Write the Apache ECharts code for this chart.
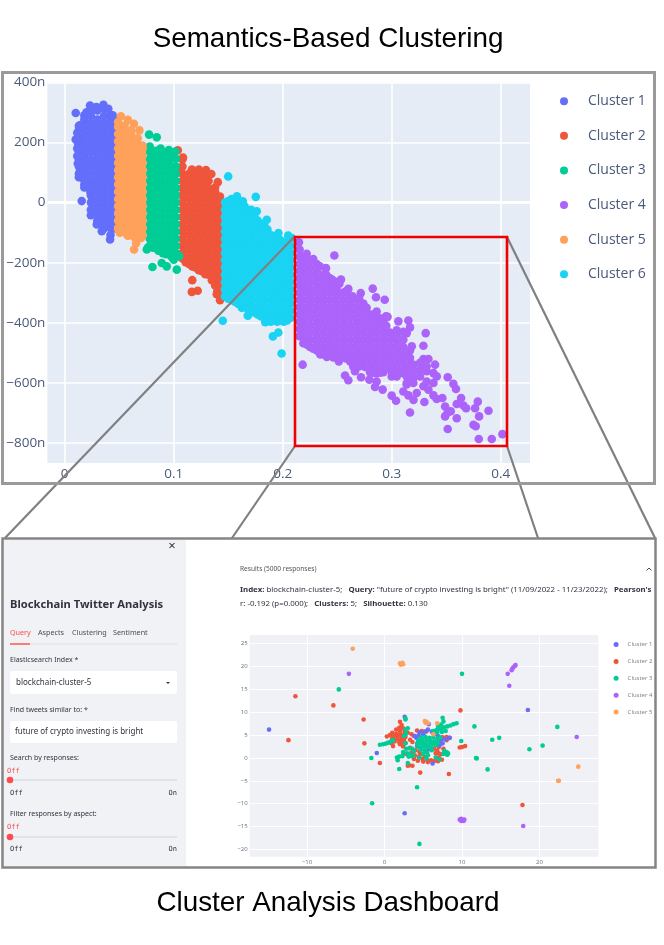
<!DOCTYPE html>
<html><head><meta charset="utf-8">
<style>html,body{margin:0;padding:0;background:#fff}#c{width:664px;height:945px}</style>
<script src="https://cdn.jsdelivr.net/npm/echarts@6/dist/echarts.min.js"></script>
</head><body><div id="c"></div>
<script>
// ---- Upper chart: [x, [y values in nano units]]
const names = ['Cluster 1','Cluster 2','Cluster 3','Cluster 4','Cluster 5','Cluster 6'];
const colors = ['#636efa','#EF553B','#00cc96','#ab63fa','#FFA15A','#19d3f3'];
const xTicksTop = [0,0.1,0.2,0.3,0.4];
const yTicksTop = [-800,-600,-400,-200,0,200,400];
const xTicksLow = [-10,0,10,20];
const yTicksLow = [-20,-15,-10,-5,0,5,10,15,20,25];

const c1Cols = [
[.013,[255,240,216,192,168,144,120,96,84]],
[.018,[290,276,252,228,204,180,156,132,108,84,60,50]],
[.024,[312,288,264,240,216,192,168,144,120,96,72,48,24,0,-24,-42]],
[.030,[306,276,252,228,204,180,156,132,108,84,60,36,12,-12,-36,-60,-64]],
[.036,[312,288,264,240,216,192,168,144,120,96,72,48,24,0,-24,-48,-72,-86]],
[.042,[292,276,252,228,204,180,156,132,108,84,60,36,12,-12,-36,-60,-84,-108]],
[.046,[272,264,240,216,192,168,144,120,96,72,48,24,0,-24,-48,-72,-86]]];
const c1Pts = [[.0101,298],[.0101,210],[.0156,5],[.0294,-73],[.034,-95],[.0416,-123],[.0355,325],[.0232,323],[.0268,310],[.0145,258],[.0125,195],[.0155,120],[.0115,232],[.0115,205],[.0115,180],[.0115,155],[.012,130],[.014,105],[.0165,80],[.02,58],[.0235,35],[.0265,5],[.0295,-25],[.0315,-50],[.02,300],[.029,318],[.04,312],[.044,290]];

const c5Cols = [
[.049,[268,252,228,204,180,156,132,108,84,60,36,12,-12,-36,-60,-84,-88]],
[.055,[256,240,216,192,168,144,120,96,72,48,24,0,-24,-48,-72,-96]],
[.061,[240,228,204,180,156,132,108,84,60,36,12,-12,-36,-60,-84,-108]],
[.067,[214,192,168,144,120,96,72,48,24,0,-24,-48,-72,-96,-100]],
[.0715,[190,180,156,132,108,84,60,36,12,-12,-36,-60,-84,-108]]];
const c5Pts = [[.0636,-156],[.0655,-135],[.0515,287],[.058,275],[.0635,262],[.0685,240],[.0575,-108],[.0505,-100],[.052,-98],[.058,-110],[.064,-115],[.07,-118]];

const c3Cols = [
[.078,[186,168,144,120,96,72,48,24,0,-24,-48,-72,-96,-120,-144]],
[.084,[172,156,132,108,84,60,36,12,-12,-36,-60,-84,-108,-132,-144]],
[.090,[162,144,120,96,72,48,24,0,-24,-48,-72,-96,-120,-144,-168]],
[.096,[156,132,108,84,60,36,12,-12,-36,-60,-84,-108,-132,-156]],
[.102,[146,120,96,72,48,24,0,-24,-48,-72,-96,-120,-144,-168]]];
const c3Pts = [[.0774,226],[.0844,217],[.0805,-214],[.0890,-201],[.0936,-212],[.1028,-223],[.0753,-156],[.0762,-150],[.098,-180],[.086,-160],[.1,-190],[.0955,175],[.1015,170],[.088,180],[.081,-150],[.087,-160],[.093,-172],[.099,-176],[.105,-178]];

const c2Cols = [
[.108,[144,120,96,72,48,24,0,-24,-48,-72,-96,-120,-144,-168,-186]],
[.114,[96,84,60,36,12,-12,-36,-60,-84,-108,-132,-156,-180,-204]],
[.120,[96,72,48,24,0,-24,-48,-72,-96,-120,-144,-168,-192,-216]],
[.126,[96,84,60,36,12,-12,-36,-60,-84,-108,-132,-156,-180,-204,-228]],
[.132,[90,72,48,24,0,-24,-48,-72,-96,-120,-144,-168,-192,-216,-240]],
[.138,[50,36,12,-12,-36,-60,-84,-108,-132,-156,-180,-204,-228,-252,-276]],
[.1425,[20,0,-24,-48,-72,-96,-120,-144,-168,-192,-216,-240,-264,-288,-312]]];
const c2Pts = [[.117,-258],[.1166,-297],[.122,-293],[.1404,68],[.1037,174],[.1085,150],[.1065,110],[.1167,110],[.1231,110],[.1296,108],[.1345,95],[.1395,-305],[.1425,-325],[.111,-198],[.117,-212],[.123,-225],[.129,-238],[.135,-258],[.14,-295]];

const c6Cols = [
[.147,[0,-24,-48,-72,-96,-120,-144,-168,-192,-216,-240,-264,-288,-312]],
[.153,[12,-12,-36,-60,-84,-108,-132,-156,-180,-204,-228,-252,-276,-300,-324]],
[.159,[0,-24,-48,-72,-96,-120,-144,-168,-192,-216,-240,-264,-288,-312,-336]],
[.165,[-12,-36,-60,-84,-108,-132,-156,-180,-204,-228,-252,-276,-300,-324,-348]],
[.171,[-24,-48,-72,-96,-120,-144,-168,-192,-216,-240,-264,-288,-312,-336,-360]],
[.177,[-60,-84,-108,-132,-156,-180,-204,-228,-252,-276,-300,-324,-348,-372]],
[.183,[-72,-96,-120,-144,-168,-192,-216,-240,-264,-288,-312,-336,-360,-384]],
[.189,[-108,-132,-156,-180,-204,-228,-252,-276,-300,-324,-348,-372,-396]],
[.195,[-120,-144,-168,-192,-216,-240,-264,-288,-312,-336,-360,-384]],
[.201,[-132,-156,-180,-204,-228,-252,-276,-300,-324,-348,-372,-396]],
[.207,[-120,-144,-168,-192,-216,-240,-264,-288,-312,-336,-360,-384]]];
const c6Pts = [[.150,87],[.158,21],[.1634,4],[.1753,19],[.1762,-29],[.1854,-57],[.1824,-84],[.1961,-101],[.2084,-118],[.1655,-43],[.145,-393],[.168,-376],[.184,-398],[.195,-396],[.191,-445],[.196,-432],[.199,-502],[.1625,-350],[.175,-365],[.205,-110],[.15,5],[.156,10],[.162,-5],[.168,-25],[.174,-45],[.18,-70],[.186,-90],[.192,-112],[.198,-125],[.204,-130],[.15,-320],[.156,-330],[.162,-342],[.168,-352],[.174,-365],[.18,-378],[.186,-390],[.192,-392],[.198,-392],[.204,-392]];

const c4Cols = [
[.2155,[-156,-180,-204,-228,-252,-276,-300,-324,-348,-372,-396,-420,-444]],
[.2189,[-180,-204,-228,-252,-276,-300,-324,-348,-372,-396,-420,-444,-468]],
[.225,[-192,-216,-240,-264,-288,-312,-336,-360,-384,-408,-432,-456,-480]],
[.2312,[-204,-228,-252,-276,-300,-324,-348,-372,-396,-420,-444,-468,-492]],
[.2373,[-240,-264,-288,-312,-336,-360,-384,-408,-432,-456,-480,-504]],
[.2434,[-252,-276,-300,-324,-348,-372,-396,-420,-444,-468,-492,-508]],
[.2495,[-264,-288,-312,-336,-360,-384,-408,-432,-456,-480,-504,-513]],
[.2557,[-300,-324,-348,-372,-396,-420,-444,-468,-492,-516]],
[.2618,[-312,-336,-360,-384,-408,-432,-456,-480,-504,-528]],
[.2679,[-324,-348,-372,-396,-420,-444,-468,-492,-516,-540]],
[.274,[-336,-360,-384,-408,-432,-456,-480,-504,-528]],
[.2801,[-372,-396,-420,-444,-468,-492,-516,-540,-564]],
[.2862,[-384,-408,-432,-456,-480,-504,-528,-552,-568]],
[.2924,[-396,-420,-444,-468,-492,-516,-540,-564]],
[.2985,[-432,-456,-480,-504,-528,-552]],
[.3046,[-444,-468,-492,-516,-540,-564]],
[.3107,[-456,-480,-504,-528,-552]],
[.3168,[-492,-516,-540]]];
const c4Pts = [[.2474,-176],[.2149,-132],[.2397,-218],[.2535,-256],[.2602,-287],[.2826,-286],[.2716,-301],[.2856,-315],[.2936,-323],[.2862,-362],[.2948,-378],[.2962,-380],[.3061,-395],[.3153,-392],[.3312,-434],[.3291,-476],[.3184,-478],[.3138,-434],[.3,-440],[.2183,-539],[.2572,-575],[.2602,-591],[.2663,-561],[.2719,-581],[.2755,-547],[.2795,-589],[.2847,-613],[.2862,-595],[.2917,-622],[.3,-642],[.304,-659],[.3107,-628],[.3153,-641],[.32,-656],[.323,-633],[.33,-663],[.3168,-698],[.3383,-641],[.3413,-653],[.3465,-650],[.349,-678],[.3514,-581],[.3566,-603],[.359,-620],[.3637,-650],[.3597,-670],[.3658,-675],[.3683,-684],[.379,-662],[.3765,-684],[.3888,-692],[.3802,-711],[.3542,-694],[.3514,-698],[.349,-711],[.3597,-717],[.3514,-753],[.375,-739],[.3771,-744],[.3799,-786],[.3918,-786],[.4016,-770],[.3291,-520],[.3337,-520],[.3398,-539],[.3321,-545],[.3199,-539],[.326,-533],[.3138,-556],[.3199,-561],[.326,-556],[.3321,-561],[.3383,-567],[.3413,-578],[.3,-578],[.3046,-578],[.3138,-578],[.3199,-583],[.3138,-600],[.3199,-600],[.3291,-611],[.3337,-622],[.3383,-600],[.3321,-595],[.326,-578],[.3138,-605],[.3,-562],[.3107,-567],[.3168,-415],[.3046,-425],[.3107,-430],[.2215,-462],[.2345,-505],[.2405,-513],[.2515,-528],[.2648,-546],[.2465,-515],[.222,-170],[.228,-188],[.234,-212],[.24,-240],[.246,-258],[.252,-270],[.258,-295],[.264,-312],[.27,-318],[.277,-350],[.283,-372],[.289,-385],[.295,-410],[.222,-472],[.228,-486],[.234,-498],[.24,-506],[.246,-510],[.252,-516],[.258,-518],[.264,-532],[.27,-545],[.277,-545],[.283,-566],[.2895,-566]];

// ---- Lower chart: [x, y] points
const d1 = [[-14.9,6.2],[2.6,9],[-1,1.1],[2.6,-12.1],[18.5,10.5],[4.5,5.6],[5,5.2],[5.6,6.2],[6.1,5.8],[6.6,5.3],[4.4,4.9],[4.1,4.4],[6.9,4.8],[7.4,4.1],[7.9,4.1],[8.4,4.4],[7.5,3.2],[7.1,2.8],[4.3,3.4],[4.2,2.6],[4.6,2.2],[5.7,1.9],[5.2,3],[6,3.6],[6.2,-1.2],[3.9,4.8],[5.7,7.4],[5.2,5.8],[7,3.6],[6.5,5.7]];
const d2 = [[-11.5,13.5],[-6.6,11.5],[-12.4,3.9],[-2.7,8.4],[-2.6,3.2],[-0.6,-1.1],[9.8,10.4],[9.7,2.3],[10.4,2.6],[8.3,-3.5],[4.6,-3.2],[17.8,-10.3],[10,2.4],[2,7.9],[2.2,7.2],[1.9,6.6],[2.4,6.5],[1.5,6.2],[2,5.9],[2.6,5.8],[3,5.5],[1,5.5],[1.5,5.3],[2,5.2],[2.5,5.1],[.7,5],[1.2,4.8],[1.7,4.7],[2.2,4.6],[2.7,4.6],[.3,4.7],[1,4.3],[1.5,4.1],[2,4],[2.5,4],[1.3,3.6],[1.9,3.4],[2.4,3.4],[1.1,2.6],[2,3],[.9,3.2],[2.7,3.3],[3.5,5.2],[4.2,6],[4.8,5.9],[5.4,5.8],[6.2,5.6],[3.8,4.8],[7.5,4.5],[8,4.6],[8.4,4.4],[8,3.9],[7.2,3.5],[3.3,2.2],[2.4,2.5],[4,1.7],[4.5,1.3],[3.5,1.2],[3.9,.6],[4.4,.2],[4.9,-.2],[5.5,-.4],[3.8,-.2],[4.3,-.6],[5,-.8],[5.6,-.9],[6,-.5],[6.5,-.6],[6.9,-.7],[7,.1],[7.4,-.4],[7.3,.8],[7,1],[6.8,1.6],[3.2,-1.6],[3.6,-1.7],[3,-1.7],[2.9,.8],[2.5,1],[6.6,1],[6.4,2],[7,2.4],[7.6,2],[3.3,4],[3.6,3.5],[4.6,.8],[5.2,.2]];
const d3 = [[-5.9,15],[10,18.4],[11.6,6.9],[13.9,4],[14.8,4.4],[22.3,6.8],[20.4,2.7],[18.7,1.9],[11.9,-.1],[11.8,0],[13.3,-2.5],[4.2,-6.4],[-1.6,-9.9],[4.5,-18.8],[-1.7,0],[1.9,-2.4],[-.6,2.9],[-.2,3],[.1,3.1],[.4,3.3],[.7,3.5],[.9,3.7],[1.1,3.9],[6.3,5.9],[6.7,6.1],[7,6.3],[7.4,6.5],[7.7,6.7],[8.1,6.9],[8.5,7.1],[8.9,7.4],[9.3,7.6],[6.9,6.9],[7.3,7.3],[7.6,8],[7.5,8.8],[6.8,5.6],[7.4,5.7],[7.9,5.9],[4.8,4.5],[5.3,4.6],[5.8,4.4],[6.3,4.5],[6.8,4.2],[7.2,4.5],[4.4,3.9],[4.9,3.9],[5.4,3.8],[5.9,3.7],[6.4,3.6],[6.9,3.4],[4.2,3.1],[4.7,3.2],[5.2,3.2],[5.7,3],[6.2,3],[6.6,2.8],[4.4,2.4],[5,2.5],[5.5,2.4],[6,2.3],[4.7,1.8],[5.2,1.7],[6.1,1.7],[5.5,1.2],[5,.9],[5.6,.6],[2.8,2],[3.2,2.1],[3.6,2],[2.4,1.3],[2.9,1],[3.2,.9],[3.5,.4],[2.3,.4],[1.9,.3],[1.7,-.5],[1.6,.1],[3.8,1.5],[3.1,.3],[3,-1.1],[3.7,.5],[4.5,.1],[2.7,3.2],[2.7,8.7],[2.7,8.4],[2.8,5.3],[3,6.5],[2.7,6.2],[2.5,4.8],[7.7,1.5],[8,1.3],[8.2,1],[7.6,.9],[8.1,.7],[7.9,.9],[7.1,-.3],[6.6,.1],[9.9,3.7],[5.4,-.1]];
const d4 = [[-4.6,18.4],[15.9,18.4],[16.1,15.8],[16.4,19.2],[16.5,19.5],[16.6,19.8],[16.8,20.1],[16.9,20.3],[24.8,4.6],[17.9,-14.9],[9.7,-13.5],[9.9,-13.3],[10.1,-13.6],[10.2,-13.8],[9.9,-13.8],[10.3,-13.5]];
const d5 = [[-4.1,23.9],[2,20.7],[2.2,20.6],[2.4,20.5],[2.1,20.4],[2.3,20.8],[5.2,8.1],[5.4,7.9],[5.6,7.6],[5.3,7.7],[6.8,7.6],[6.3,5.2],[25,-1.9],[22.4,-5],[22.5,-5]];

const flat = cols => cols.flatMap(([x, ys]) => ys.map(y => [x, y]));
const topSeries = [
  flat(c1Cols).concat(c1Pts), flat(c2Cols).concat(c2Pts), flat(c3Cols).concat(c3Pts),
  flat(c4Cols).concat(c4Pts), flat(c5Cols).concat(c5Pts), flat(c6Cols).concat(c6Pts)
];
const lowSeries = [[1,d2],[0,d1],[2,d3],[3,d4],[4,d5]];

// text content of the dashboard mock-up
const tabs = [['Query',10,'#ff4b4b'],['Aspects',38,'#4b4d58'],['Clustering',72,'#4b4d58'],['Sentiment',113,'#4b4d58']];

const sans = '"Noto Sans"', plot = '"Open Sans"';
const T = (x,y,text,o={}) => ({type:'text',z:100,silent:true,x,y,style:Object.assign({text,fill:'#31333f',font:`${o.weight||'normal'} ${o.size||7.5}px ${o.family||sans}`,textAlign:o.align||'left',textVerticalAlign:'middle'},o.style||{})});
const R = (x,y,w,h,fill,r) => ({type:'rect',z:90,silent:true,shape:{x,y,width:w,height:h,r:r||0},style:{fill}});
const L = (x1,y1,x2,y2,stroke,w) => ({type:'line',z:95,silent:true,shape:{x1,y1,x2,y2},style:{stroke,lineWidth:w}});
const C = (cx,cy,r,fill) => ({type:'circle',z:96,silent:true,shape:{cx,cy,r},style:{fill}});
const box = (x,y,w,h,stroke,lw,z) => ({type:'rect',z:z||97,silent:true,shape:{x,y,width:w,height:h},style:{fill:'none',stroke,lineWidth:lw}});

const graphic = [
  R(3,540,183,326,'#f0f2f6'),
  T(328,39.5,'Semantics-Based Clustering',{size:27.8,family:'"Liberation Sans"',align:'center',style:{fill:'#000'}}),
  T(328,903,'Cluster Analysis Dashboard',{size:27.8,family:'"Liberation Sans"',align:'center',style:{fill:'#000'}}),
  box(2.5,72.5,652,411,'#9a9a9a',3),
  box(2.5,538.5,653,329,'#858585',2.5),
  L(294,237,5,538,'#808080',2.2), L(295,446,232,538,'#808080',2.2),
  L(507,237,655,538,'#808080',2.2), L(507,446,538,538,'#808080',2.2),
  box(295,237,212,209,'#f00000',2.6,98),
  T(172,546,'×',{size:13,align:'center'}),
  T(10,605,'Blockchain Twitter Analysis',{size:11.2,weight:'bold'}),
  ...tabs.map(t => T(t[1],633,t[0],{size:7.2,style:{fill:t[2]}})),
  R(10,643,167,2,'#e6e9ef'), R(10,643,20,2,'#ff7a7a'),
  T(10,660,'Elasticsearch Index *',{size:7}),
  R(10,671,167,23,'#ffffff',2),
  T(16,683,'blockchain-cluster-5',{size:8}),
  {type:'polygon',z:96,silent:true,shape:{points:[[166,682],[170,682],[168,684]]},style:{fill:'#31333f'}},
  T(10,710,'Find tweets similar to: *',{size:7}),
  R(10,721,167,22,'#ffffff',2),
  T(15,732,'future of crypto investing is bright',{size:8}),
  T(10,758,'Search by responses:',{size:7}),
  T(7,771,'Off',{size:7,family:'"DejaVu Sans Mono"',style:{fill:'#ff4b4b'}}),
  R(10,779,167,2,'#dfe3ea'), C(10,780,3.3,'#ff4b4b'),
  T(10,793,'Off',{size:7,family:'"DejaVu Sans Mono"'}),
  T(177,793,'On',{size:7,family:'"DejaVu Sans Mono"',align:'right'}),
  T(10,814,'Filter responses by aspect:',{size:7}),
  T(7,827,'Off',{size:7,family:'"DejaVu Sans Mono"',style:{fill:'#ff4b4b'}}),
  R(10,836,167,2,'#dfe3ea'), C(10,837,3.3,'#ff4b4b'),
  T(10,849,'Off',{size:7,family:'"DejaVu Sans Mono"'}),
  T(177,849,'On',{size:7,family:'"DejaVu Sans Mono"',align:'right'}),
  T(240,569.5,'Results (5000 responses)',{size:6.6,style:{fill:'#555'}}),
  {type:'polyline',z:96,silent:true,shape:{points:[[646.5,570.5],[649,568],[651.5,570.5]]},style:{stroke:'#31333f',lineWidth:0.9,fill:'none'}},
  {type:'text',z:100,silent:true,x:240,y:589.7,style:{
    text:'{b|Index:} blockchain-cluster-5;   {b|Query:} "future of crypto investing is bright" (11/09/2022 - 11/23/2022);   {b|Pearson\'s}',
    font:`7.85px ${sans}`,fill:'#31333f',textVerticalAlign:'middle',
    rich:{b:{fontWeight:'bold',fontSize:7.85,fontFamily:'Noto Sans',fill:'#31333f'}}}},
  {type:'text',z:100,silent:true,x:240,y:603.7,style:{
    text:'r: -0.192 (p=0.000);   {b|Clusters:} 5;   {b|Silhouette:} 0.130',
    font:`7.85px ${sans}`,fill:'#31333f',textVerticalAlign:'middle',
    rich:{b:{fontWeight:'bold',fontSize:7.85,fontFamily:'Noto Sans',fill:'#31333f'}}}}
];

const minus = s => String(s).replace('-','\u2212');
const scatter = (name,data,color,idx,size,z) => ({type:'scatter',name,data,xAxisIndex:idx,yAxisIndex:idx,symbolSize:size,z,
  itemStyle:{color,opacity:1},emphasis:{disabled:true},large:false});

const option = {
  animation:false,
  backgroundColor:'#fff',
  textStyle:{fontFamily:plot},
  grid:[
    {left:47.4,top:82.3,width:482.6,height:380.7,show:true,backgroundColor:'#E5ECF6',borderWidth:0,containLabel:false},
    {left:249.7,top:635,width:348.7,height:221.7,show:true,backgroundColor:'#eff1f6',borderWidth:0,containLabel:false}
  ],
  xAxis:[
    {gridIndex:0,type:'value',min:-0.0159,max:0.4269,axisLine:{show:false},
     axisTick:{show:false,customValues:xTicksTop},
     splitLine:{show:true,lineStyle:{color:'#fff',width:1.6}},
     axisLabel:{customValues:xTicksTop,color:'#4a5a78',fontSize:13.5,margin:4,formatter:v=>String(v)}},
    {gridIndex:1,type:'value',min:-17.4,max:27.6,axisLine:{show:false},
     axisTick:{show:false,customValues:xTicksLow},
     splitLine:{show:true,lineStyle:{color:'#fff',width:1}},
     axisLabel:{customValues:xTicksLow,color:'#666d80',fontSize:6,margin:3,formatter:v=>minus(v)}}
  ],
  yAxis:[
    {gridIndex:0,type:'value',min:-866,max:400,axisLine:{show:false},
     axisTick:{show:false,customValues:yTicksTop},
     splitLine:{show:true,lineStyle:{color:'#fff',width:1.6}},
     axisLabel:{customValues:yTicksTop,color:'#4a5a78',fontSize:13.5,margin:2,formatter:v=>v===0?'0':minus(v)+'n'}},
    {gridIndex:1,type:'value',min:-21.6,max:26.9,axisLine:{show:false},
     axisTick:{show:false,customValues:yTicksLow},
     splitLine:{show:true,lineStyle:{color:'#fff',width:1}},
     axisLabel:{customValues:yTicksLow,color:'#666d80',fontSize:6,margin:2,formatter:v=>minus(v)}}
  ],
  legend:[
    {data:names,orient:'vertical',left:555,top:89,icon:'circle',itemWidth:8,itemHeight:8,itemGap:20.1,selectedMode:false,
     textStyle:{color:'#4a5a78',fontSize:14,fontFamily:plot,padding:[0,0,0,15],lineHeight:14.5}},
    {data:names.slice(0,5),orient:'vertical',left:608.6,top:636.5,icon:'circle',itemWidth:5,itemHeight:5,itemGap:10.9,selectedMode:false,
     textStyle:{color:'#777d8c',fontSize:6,fontFamily:plot,padding:[0,0,0,4],lineHeight:5}}
  ],
  series:[
    {type:'scatter',data:[],xAxisIndex:0,yAxisIndex:0,z:1,silent:true,
     markLine:{z:1,silent:true,symbol:'none',label:{show:false},lineStyle:{color:'#fff',width:3,type:'solid'},data:[{yAxis:0}],animation:false}},
    ...topSeries.map((d,i)=>scatter(names[i],d,colors[i],0,8.6,2+i)),
    ...lowSeries.map((e,i)=>scatter(names[e[0]],e[1],colors[e[0]],1,4.6,2+i))
  ],
  graphic:{elements:graphic}
};
const chart = echarts.init(document.getElementById('c'),null,{renderer:'canvas',width:664,height:945});
chart.setOption(option);
</script></body></html>
